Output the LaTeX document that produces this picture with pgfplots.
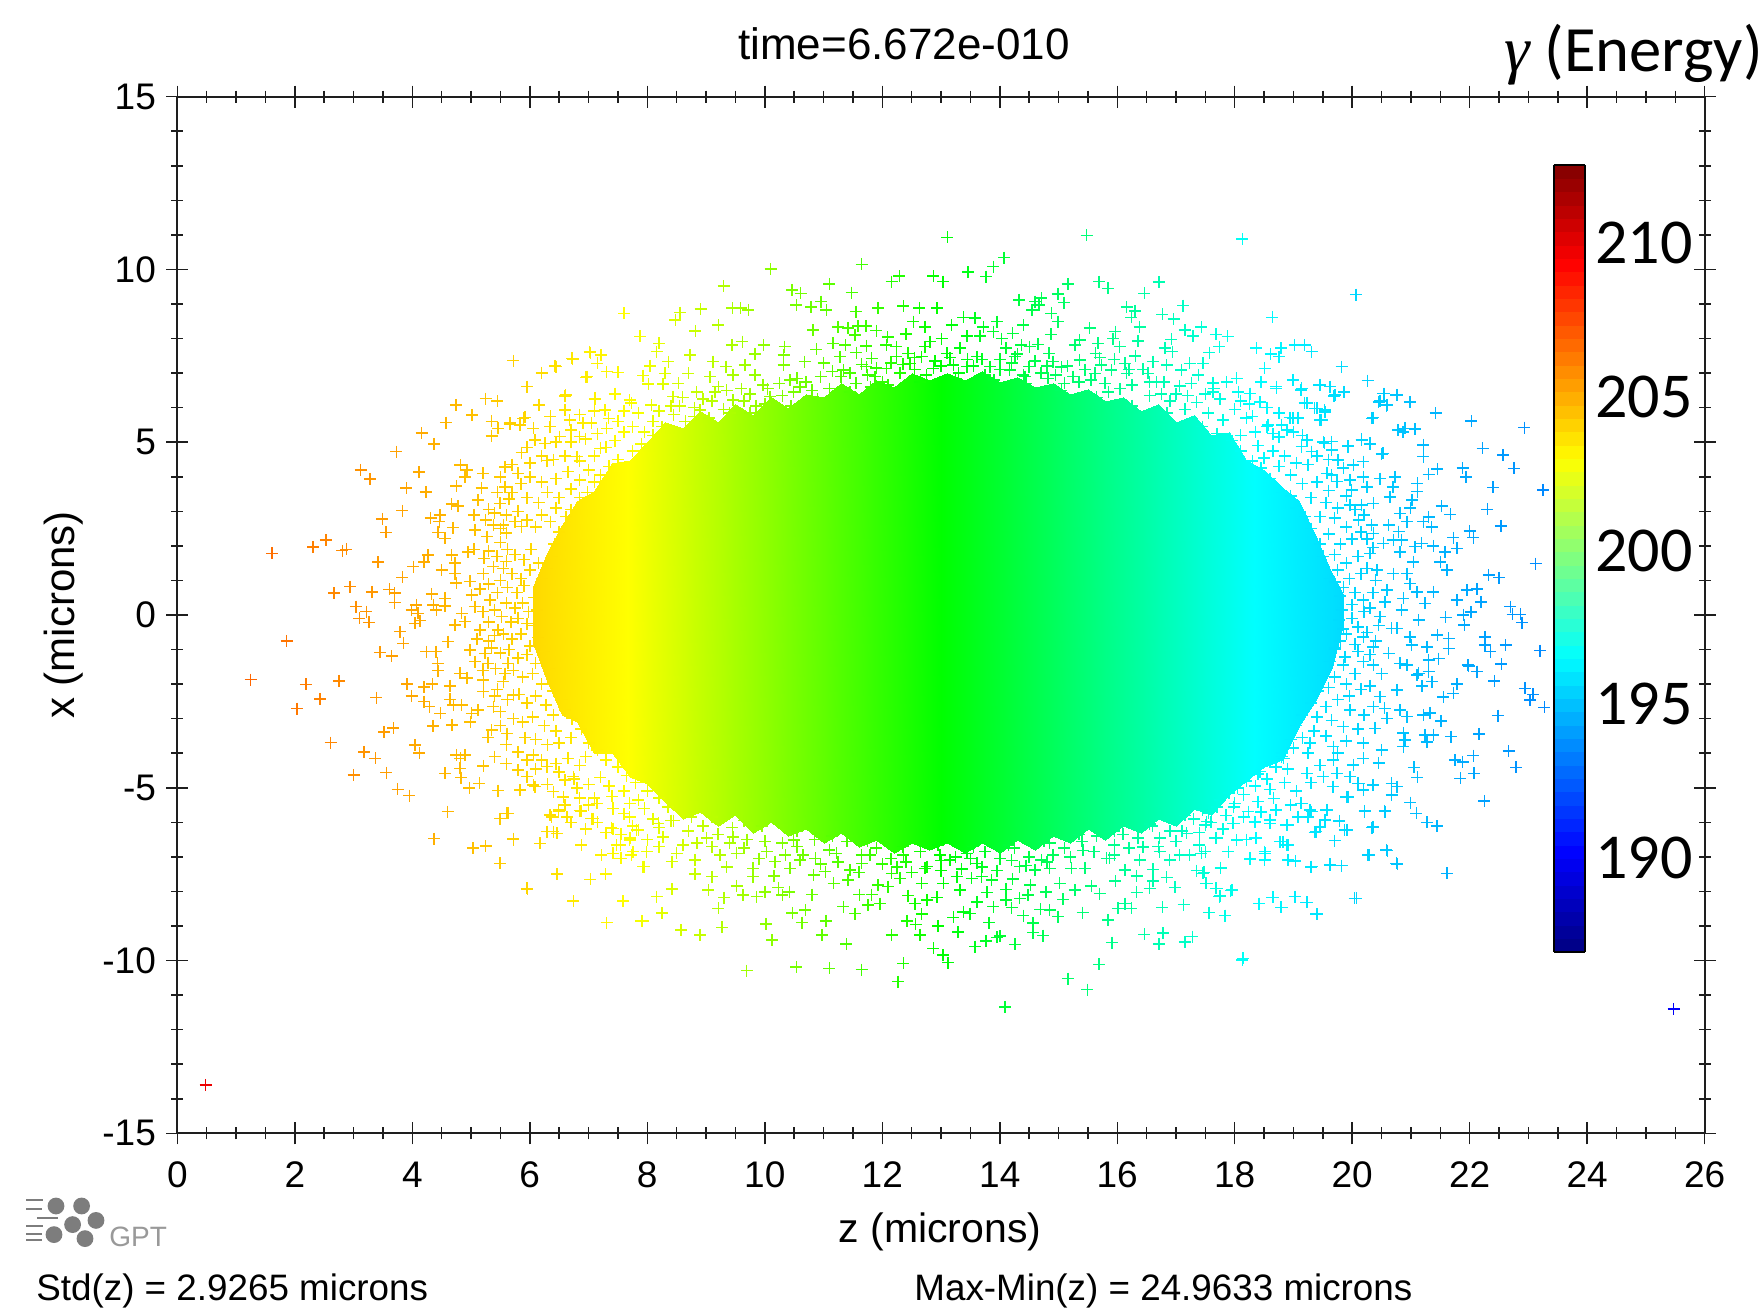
\documentclass[border=0pt]{standalone}
\usepackage{fontspec}
\setmainfont{Liberation Sans}
\newfontfamily\calib{Carlito}
\newfontfamily\ser{Liberation Serif}
\usepackage{pgfplots}
\pgfplotsset{compat=1.18}
\definecolor{axc}{RGB}{30,30,30}
\definecolor{logo}{RGB}{125,125,125}
\pgfplotsset{
  gptmap/.style={colormap={gpt}{rgb255(0)=(0,0,128) rgb255(1)=(0,0,255) rgb255(3)=(0,255,255) rgb255(4)=(0,255,0) rgb255(5)=(255,255,0) rgb255(7)=(255,0,0) rgb255(8)=(128,0,0)}},
}
\begin{document}
\begin{tikzpicture}
\path[use as bounding box] (0,0) rectangle (880.5pt,656.5pt);
\begin{axis}[
  at={(88.65pt,89.85pt)}, anchor=south west,
  scale only axis, width=763.7pt, height=518.3pt,
  xmin=0, xmax=26, ymin=-15, ymax=15,
  xtick={0,2,...,26}, minor x tick num=3,
  ytick={-15,-10,-5,0,5,10,15}, minor y tick num=4,
  yticklabels={-15,-10,-5,0,5,10,15},
  xticklabels={0,2,4,6,8,10,12,14,16,18,20,22,24,26},
  tick align=center, tick pos=both,
  major tick length=11pt, minor tick length=6pt,
  every tick/.style={axc,line width=0.75pt},
  axis line style={axc,line width=1pt},
  tick label style={font=\fontsize{18.5}{20}\selectfont,inner sep=0pt},
  xticklabel style={yshift=-8.5pt},
  yticklabel style={xshift=-5pt},
  colormap={jet}{rgb255(0)=(0,0,128) rgb255(1)=(0,0,255) rgb255(3)=(0,255,255) rgb255(5)=(255,255,0) rgb255(7)=(255,0,0) rgb255(8)=(128,0,0)},
  point meta min=186.95, point meta max=212.55,
  colorbar sampled,
  colorbar style={
    at={(parent axis.north west)}, anchor=north west, xshift=679.7pt, yshift=-34.15pt,
    scale only axis, width=15.5pt, height=393.4pt, samples=60,
    ytick={190,195,200,205,210}, yticklabels={190,195,200,205,210},
    ytick style={draw=none}, major tick length=0pt,
    axis line style={black,line width=1.2pt},
    yticklabel style={font=\calib\fontsize{32}{33}\selectfont,inner sep=0pt,xshift=5pt},
  },
]
\addplot[surf, gptmap, shader=interp, mesh/cols=2, point meta={199.75+0.6*(13-x)}] coordinates {
(6.05,-0.8)(6.05,0.8)
(6.3,-1.9)(6.3,1.8)
(6.55,-2.9)(6.55,2.6)
(6.8,-3.1)(6.8,3.3)
(7.1,-4)(7.1,3.6)
(7.4,-4)(7.4,4.4)
(7.7,-4.7)(7.7,4.5)
(8,-4.9)(8,5)
(8.3,-5.4)(8.3,5.6)
(8.6,-5.9)(8.6,5.4)
(8.9,-5.7)(8.9,5.9)
(9.2,-6.1)(9.2,5.6)
(9.5,-5.8)(9.5,6.1)
(9.8,-6.3)(9.8,5.8)
(10.1,-6)(10.1,6.3)
(10.4,-6.4)(10.4,6)
(10.7,-6.2)(10.7,6.4)
(11,-6.6)(11,6.3)
(11.3,-6.3)(11.3,6.7)
(11.6,-6.7)(11.6,6.4)
(11.9,-6.5)(11.9,6.8)
(12.2,-6.9)(12.2,6.6)
(12.5,-6.6)(12.5,7)
(12.8,-6.8)(12.8,6.8)
(13.1,-6.6)(13.1,7)
(13.4,-6.9)(13.4,6.8)
(13.7,-6.6)(13.7,7.05)
(14,-6.9)(14,6.75)
(14.3,-6.5)(14.3,6.9)
(14.6,-6.8)(14.6,6.6)
(14.9,-6.4)(14.9,6.7)
(15.2,-6.6)(15.2,6.4)
(15.5,-6.2)(15.5,6.55)
(15.8,-6.5)(15.8,6.2)
(16.1,-6.1)(16.1,6.3)
(16.4,-6.3)(16.4,5.9)
(16.7,-5.9)(16.7,6.1)
(17,-6.1)(17,5.6)
(17.3,-5.6)(17.3,5.8)
(17.6,-5.8)(17.6,5.2)
(17.9,-5.2)(17.9,5.3)
(18.2,-4.8)(18.2,4.5)
(18.5,-4.4)(18.5,4.2)
(18.8,-4.2)(18.8,3.7)
(19.1,-3.2)(19.1,3.3)
(19.4,-2.4)(19.4,2.2)
(19.65,-1.5)(19.65,1.2)
(19.85,-0.3)(19.85,0.6)
};
\addplot[scatter, gptmap, only marks, mark=+, mark size=3pt, line width=0.75pt,
  scatter/use mapped color={draw=mapped color,fill=mapped color},
  point meta={199.75+0.6*(13-x)}] coordinates {
(1.61,1.78)(2.31,1.97)(2.53,2.17)(2.81,1.86)(2.88,1.9)(3.12,4.2)(3.28,3.94)(3.73,4.73)(4.16,5.26)(4.37,4.95)(4.57,5.57)(4.74,6.08)(5.02,5.79)(5.25,6.26)(5.45,6.19)(5.72,7.36)(6.2,7.01)(6.45,7.19)(6.73,7.41)(7.02,7.62)(7.22,7.53)(7.6,8.73)(7.88,8.06)(5.95,6.61)(6.96,6.88)(7.31,7.04)(7.5,7.02)(6.15,6.07)(6.6,6.34)(7.11,6.27)(7.45,6.39)(7.7,6.22)(6.6,5.93)(5.35,5.6)(5.46,5.4)(5.35,5.18)(5.66,5.53)(5.83,5.5)(5.92,5.72)(6.06,5.4)(6.34,5.45)(6.09,5.06)(6.26,4.97)(5.86,4.7)(6.29,4.47)(5.58,4.29)(5.8,4.1)(4.82,4.34)(4.93,4.2)(4.9,4)(4.11,4.14)(3.9,3.67)(4.23,3.56)(4.75,3.74)(3.83,3.02)(3.49,2.78)(3.55,2.39)(4.31,2.8)(4.47,2.89)(4.46,2.7)(4.67,3.21)(4.78,3.16)(5.18,3.67)(5.12,3.33)(5.3,3.06)(5.49,3.23)(5.58,3.71)(4.69,2.53)(4.44,2.39)(4.56,2.22)(5.07,2.46)(5.27,2.27)(5.38,2.6)(5.6,2.37)(5.86,2.56)(3.42,1.53)(4.27,1.73)(4.2,1.54)(4.02,1.4)(3.83,1.09)(4.67,1.74)(4.95,1.83)(5.22,1.64)(4.5,1.3)(4.73,1.5)(4.73,1.2)(4.98,0.97)(5.21,1.2)(5.38,1.4)(4.75,0.92)(2.94,0.82)(2.67,0.63)(3.31,0.67)(3.61,0.74)(3.7,0.63)(3.7,0.36)(3.04,0.24)(3.22,0.1)(3.1,-0.1)(3.26,-0.21)(4.33,0.61)(4.56,0.48)(4.56,0.26)(4.36,0.29)(4.41,0.14)(4.07,0.29)(3.99,0.14)(4.1,0.05)(4.13,-0.16)(4.05,-0.24)(4.84,0.05)(4.73,-0.29)(4.9,-0.19)(5.01,0.58)(5.07,0.24)(5.32,0.43)(3.79,-0.48)(3.85,-0.82)(1.86,-0.75)(4.61,-0.77)(5.15,-0.43)(5.46,-0.43)
(1.25,-1.87)(2.19,-2.01)(2.75,-1.91)(2.43,-2.43)(2.04,-2.71)(3.39,-2.39)(3.45,-1.08)(3.65,-1.19)(4.24,-1.06)(4.4,-1.06)(4.43,-1.4)(4.44,-1.61)(3.91,-2)(4.2,-2.09)(4.34,-2)(4.64,-2.05)(3.99,-2.34)(4.2,-2.51)(4.29,-2.65)(4.64,-2.44)(4.7,-2.6)(4.84,-2.6)(4.48,-2.85)(4.35,-3.21)(4.68,-3.18)(4.99,-3.09)(5.01,-2.85)(5.12,-2.75)(5.38,-2.65)(5.35,-3.33)(5.61,-3.43)(5.29,-3.54)(4.81,-1.69)(4.93,-1.83)(5.21,-1.88)(5.21,-2.22)(5.55,-1.93)(5.72,-2.32)(4.98,-1.01)(5.07,-1.35)(5.29,-1.4)(5.24,-1.11)(5.63,-1.4)(3.52,-3.38)(3.68,-3.27)(2.61,-3.69)(3.18,-3.96)(3.37,-4.15)(4.05,-3.76)(4.12,-4)(3,-4.63)(3.56,-4.56)(3.75,-5.05)(3.95,-5.23)(4.56,-4.58)(4.82,-4.15)(4.75,-4.05)(4.9,-4.05)(4.81,-4.44)(4.83,-4.71)(4.97,-5)(5.14,-4.87)(5.21,-4.37)(5.46,-5.08)(5.83,-5.07)(5.8,-4.49)(5.8,-3.96)(6.06,-4.05)(5.95,-4.68)(6.09,-4.97)(6.4,-5.11)(6.29,-4.39)(6.6,-4.78)(6.74,-4.68)(6.57,-5.26)(4.6,-5.69)(5.49,-5.89)(5.63,-5.74)(6.37,-5.84)(6.49,-5.69)(6.63,-5.84)(6.87,-5.67)(7.08,-5.89)(7.14,-5.45)(7.42,-5.6)(7.7,-5.45)(7.7,-5.84)(4.37,-6.47)(5.03,-6.75)(5.25,-6.69)(5.72,-6.47)(6.17,-6.61)(6.29,-6.27)(6.46,-6.32)(5.49,-7.19)(6.46,-7.5)(7.03,-7.65)(7.29,-7.5)(5.96,-7.93)(6.74,-8.28)(7.59,-8.28)(7.31,-8.9)(7.92,-8.86)(6.88,-6.66)(7.22,-6.95)(7.42,-6.9)(7.56,-7.04)(7.73,-6.95)(7.54,-6.66)(7.7,-6.51)(7.93,-7.28)(7.39,-6.16)(7.85,-6.22)
(13.11,10.93)(10.1,10.02)(11.65,10.15)(9.3,9.52)(11.1,9.58)(12.29,9.81)(12.16,9.65)(12.87,9.81)(13.03,9.65)(13.46,9.92)(13.77,9.79)(13.89,10.08)(10.46,9.41)(10.61,9.31)(11.48,9.33)(8.56,8.75)(8.48,8.54)(8.91,8.85)(9.45,8.88)(9.59,8.88)(9.72,8.83)(10.54,8.97)(10.79,8.92)(10.96,9.07)(11.05,8.83)(11.55,8.78)(11.93,8.88)(12.36,8.94)(12.63,8.88)(12.93,8.88)(8.82,8.22)(9.21,8.39)(10.82,8.25)(11.25,8.34)(11.42,8.3)(11.54,8.1)(11.59,8.37)(11.72,8.36)(11.9,8.23)(12.53,8.49)(12.73,8.34)(12.4,8.13)(12.09,8.04)(13.18,8.39)(13.38,8.61)(13.58,8.59)(13.72,8.34)(13.95,8.49)(13.01,8)(12.81,7.91)(13.44,8.07)(13.66,8.07)(13.89,8.2)(8.2,7.86)(8.16,7.62)(8.73,7.52)(9.44,7.81)(9.62,7.91)(9.98,7.81)(9.83,7.55)(10.34,7.77)(10.32,7.52)(10.88,7.69)(11.16,7.86)(11.37,7.81)(11.73,7.79)(12.07,7.81)(11.56,7.59)(12.24,7.77)(11.28,7.48)(11.82,7.43)(12.24,7.48)(12.44,7.57)(12.67,7.48)(12.73,7.77)(13.1,7.57)(13.32,7.72)(13.61,7.48)(6.43,7.21)(6.72,7.43)(7.03,7.59)(7.21,7.52)(7.15,7.28)(6.2,6.99)(6.97,6.9)(7.51,7.02)(8.05,7.21)(8.36,7.33)(7.93,6.93)(8.3,6.99)(8.7,6.99)(9.12,7.33)(9.34,7.19)(9.66,7.23)(9.07,6.9)(9.46,6.95)(9.83,6.95)(10.32,7.23)(10.68,7.33)(11,7.3)(11.34,7.09)(11.73,7.19)(12.07,7.14)(12.47,7.28)(12.87,7.14)(13.21,7.23)(13.44,7.19)(13.83,7.19)(8.02,6.68)(8.27,6.68)(8.53,6.7)(9.21,6.61)(9.97,6.66)(10.43,6.8)(11.88,6.9)(6.61,6.37)(7.45,6.41)(7.73,6.13)(6.16,6.08)(7.11,6.24)(7.28,5.93)(8.44,6.32)(8.84,6.46)(8.07,6.08)(8.9,5.93)(9.46,6.22)(10.09,6.32)(10.49,6.46)(5.89,5.69)(5.66,5.55)(6.68,5.64)(7.34,5.69)(6.91,5.55)(7.31,5.4)(6.51,5.16)(6.85,5.16)(7.2,4.82)(6.8,4.58)
(15.48,10.99)(18.13,10.88)(14.07,10.34)(20.06,9.27)(15.16,9.58)(15.69,9.65)(15.84,9.45)(16.71,9.63)(16.46,9.31)(14.33,9.12)(14.71,9.17)(14.6,9.07)(14.99,9.29)(15.09,9.04)(14.67,8.97)(14.55,8.83)(17.12,8.95)(16.16,8.92)(16.3,8.8)(16.24,8.61)(18.64,8.61)(16.77,8.7)(16.96,8.56)(14.88,8.73)(14.99,8.49)(14.4,8.39)(16.38,8.33)(15.53,8.3)(17.15,8.25)(17.43,8.34)(17.29,8.07)(17.68,8.12)(17.88,8.06)(15.97,8.2)(14.87,8.12)(14.22,8.15)(14.03,8)(16.92,7.98)(16.35,7.93)(14.65,7.83)(15.36,7.96)(15.28,7.81)(15.67,7.86)(15.93,8)(16.04,7.77)(17.74,7.77)(18.37,7.72)(19.02,7.81)(19.19,7.81)(19.31,7.62)(18.79,7.72)(18.61,7.55)(18.75,7.48)(16.81,7.72)(16.94,7.62)(17.57,7.59)(16.31,7.5)(15.63,7.57)(14.11,7.72)(14.37,7.81)(14.51,7.77)(14.84,7.57)(14.26,7.48)(19.82,7.19)(18.51,7.14)(17.46,7.28)(17.23,7.28)(17.09,7.09)(16.84,7.23)(16.61,7.33)(16.44,7.11)(16.13,7.28)(15.9,7.09)(15.73,7.23)(15.36,7.38)(14.91,7.33)(15.05,7.17)(14.5,7.19)(14.17,7.09)(20.26,6.78)(18.99,6.8)(18.45,6.75)(18.03,6.85)(17.86,6.75)(17.63,6.72)(17.63,6.46)(18.71,6.61)(19.13,6.51)(19.44,6.66)(19.62,6.61)(19.69,6.34)(19.86,6.46)(20.54,6.41)(20.75,6.37)(20.47,6.19)(20.58,6.06)(20.34,5.69)(19.19,6.14)(19.36,5.98)(19.53,5.93)(19.45,5.64)(18.99,5.69)(19.08,5.69)(18.26,6.41)(18.06,6.46)(18.43,6.17)(17.26,6.7)(17.38,6.95)(17.06,6.63)(16.67,6.75)(16.52,6.99)(16.16,6.99)(15.79,6.7)(15.62,6.99)(15.25,6.9)(14.82,6.85)(14.43,6.9)(20.16,5.06)(20.3,4.97)(19.93,4.87)(19.53,4.97)(19.65,4.77)(20.52,4.68)(19.31,4.73)(20.78,5.35)
(21.42,5.84)(22.03,5.61)(22.93,5.42)(22.22,4.82)(22.57,4.63)(22.75,4.24)(21.88,4.26)(21.94,4)(21.45,4.22)(21.3,4.07)(22.4,3.69)(23.25,3.62)(22.3,3.06)(21.52,3.15)(21.67,2.91)(22.53,2.58)(22,2.43)(22.06,2.24)(21.72,2.24)(23.12,1.49)(22.32,1.16)(22.5,1.08)(21.78,1.93)(21.58,1.83)(21.5,1.54)(21.61,1.3)(21.38,2)(21.18,2.07)(21.07,1.98)(21.95,0.72)(22.12,0.75)(22.19,0.38)(21.78,0.43)(22.02,0.08)(21.89,0)(21.91,-0.29)(21.59,-0.07)(22.69,0.24)(22.73,0.02)(22.86,0.02)(22.89,-0.22)(23.2,-1.03)(22.61,-0.87)(22.26,-0.63)(22.26,-0.87)(22.35,-1.06)(22.54,-1.43)(21.97,-1.45)(22.12,-1.64)(21.64,-0.68)(21.64,-0.97)(21.45,-0.58)(21.27,-0.92)(21.47,-1.26)(21.3,-1.3)(21.13,-0.15)(21.24,0.34)(21.38,0.67)(20.87,0.48)(20.98,-0.63)(21.01,-0.87)(21.21,4.92)(21.21,4.58)(21.11,3.81)(21.11,3.57)(21.02,3.33)(20.99,3.09)(20.81,2.94)(20.93,2.7)(21.3,2.84)(21.35,2.55)(21.21,2.7)(20.73,4)(20.69,3.71)(20.64,3.42)(20.47,3.95)(20.25,3.71)(20.5,4.66)(20.9,5.4)(21.07,5.38)(20.86,5.3)(20.35,5.71)(20.98,6.17)(20.76,6.37)(20.53,6.41)(20.45,6.17)(20.59,6.08)(20.16,5.08)(20.3,4.95)(19.93,4.89)(19.76,4.48)(20.19,4.44)(20.02,4.34)(19.57,4.1)(20.19,4)(19.74,3.86)(19.96,3.91)(19.99,3.62)(20.62,2.6)(20.79,2.41)(20.36,3.23)(20.16,3.18)(19.96,3.18)(20.33,2.6)(20.36,2.36)(20.11,2.75)(20.84,2.17)(20.7,2.17)(20.81,1.83)(20.53,2.07)(21.04,1.54)(20.93,1.2)(20.7,1.2)(20.98,0.91)(20.42,1.3)(20.3,1.78)(21.1,0.67)(20.59,0.72)(20.84,0.14)(20.56,0.38)(20.76,-0.39)(20.47,-0.05)(20.19,0.43)(20.67,-0.39)(20.36,-0.92)(20.62,-1.11)(20.81,-1.4)(20.36,-1.45)(20.93,-1.45)(21.13,-1.69)(20.19,-0.63)(19.88,-1.21)(20.19,-1.35)
(17.64,6.56)(18.26,6.41)(18.71,6.56)(19.14,6.56)(19.45,6.66)(19.71,6.37)(19.23,6.14)(19.4,5.98)(19.54,5.88)(18.94,5.71)(19.08,5.71)(19.48,5.64)(18.57,5.5)(18.89,5.35)(19.23,5.06)(19.51,5)(19.65,5.02)(19.14,4.87)(19.31,4.73)
(21.98,-1.47)(22.12,-1.64)(22.54,-1.42)(22.42,-1.91)(22.94,-2.12)(23.08,-2.3)(23.03,-2.46)(23.27,-2.67)(22.48,-2.91)(22.16,-3.44)(22.66,-3.94)(22.79,-4.41)(21.78,-2)(21.72,-2.27)(21.55,-2.38)(21.51,-3.07)(21.32,-2.83)(21.21,-2.89)(21.68,-3.52)(21.38,-3.47)(21.24,-3.47)(21.27,-3.67)(21.36,-1.93)(21.19,-2.06)(21.1,-1.74)(21.3,-1.64)(21.75,-4.2)(21.88,-4.25)(22.06,-4.07)(22.07,-4.58)(21.84,-4.73)(22.25,-5.38)(21.05,-4.41)(21.11,-4.7)(20.67,-4.87)(20.76,-4.97)(20.35,-4.92)(20.67,-5.21)(20.99,-5.43)(21.09,-5.74)(21.27,-6)(21.44,-6.11)(21.61,-7.48)(20.56,-5.69)(20.21,-5.67)(20.35,-6.13)(20.77,-7.21)(20.6,-6.82)(20.29,-6.95)(20.07,-8.2)(19.4,-8.66)(19.23,-8.32)(19.03,-8.15)(18.8,-8.46)(18.65,-8.17)(18.42,-8.35)(18.14,-9.94)(17.84,-8.7)(17.57,-8.61)(17.95,-7.96)(17.75,-8.13)(17.68,-7.91)(17.51,-7.77)(17.76,-7.33)(17.48,-7.45)(19.31,-7.28)(19.62,-7.22)(19.82,-7.25)(19.7,-6.53)(19.38,-6.27)(19.91,-6.22)(19.78,-5.96)(19.54,-5.93)(19.57,-5.64)(19.28,-5.64)(19.25,-5.84)(19.08,-5.84)(18.9,-6.08)(18.77,-6.56)(18.91,-6.66)(18.91,-7.09)(19.03,-7.12)(18.52,-6.9)(18.26,-7.06)(17.89,-6.85)(18.03,-6.51)(18.35,-6.46)(17.67,-6.46)(17.5,-6.85)(18.6,-6.03)(18.35,-6)(17.98,-6.03)(17.5,-6.08)(18.23,-5.69)(17.98,-5.55)(17.55,-5.74)(18.66,-5.31)(19.14,-5.45)(19.93,-5.26)(19.68,-4.97)(20.19,-5.07)(20.11,-4.87)(19.96,-4.68)(19.51,-4.68)(19.23,-4.58)(19.74,-4.58)(20.45,-4.29)(20.5,-3.91)(20.87,-3.81)(20.9,-3.62)(20.19,-3.71)(20.19,-4.15)(20.02,-4.34)(19.68,-3.81)(19.85,-3.23)(20.39,-3.28)(20.87,-3.42)(20.93,-2.94)(20.81,-2.75)(20.59,-2.99)(20.76,-2.17)(20.36,-2.65)(20.47,-2.36)(19.96,-2.75)(19.68,-4.2)(19.28,-3.71)(18.83,-4.15)(18.43,-4.53)(18.8,-4.1)
(12.27,-10.61)(9.69,-10.29)(10.54,-10.18)(11.1,-10.23)(11.65,-10.26)(12.36,-10.08)(12.87,-9.65)(13.03,-9.84)(13.12,-10.06)(13.58,-9.6)(13.77,-9.44)(13.95,-9.33)(11.39,-9.52)(10.12,-9.41)(10.97,-9.26)(12.16,-9.26)(12.64,-9.26)(13.29,-9.18)(7.9,-8.86)(8.57,-9.12)(8.9,-9.26)(9.27,-9.04)(10.02,-8.94)(10.63,-8.9)(11.04,-8.85)(12.42,-8.85)(12.57,-8.95)(12.95,-9)(13.82,-8.9)(8.25,-8.62)(9.21,-8.49)(10.47,-8.62)(10.69,-8.54)(11.34,-8.44)(11.54,-8.64)(12.67,-8.66)(13.21,-8.75)(13.38,-8.59)(13.49,-8.64)(13.89,-8.44)(5.95,-7.91)(8.16,-8.15)(8.42,-7.93)(9.04,-7.96)(9.31,-8.18)(9.63,-8.1)(9.86,-8.15)(10,-8.01)(10.23,-7.89)(10.3,-8.1)(10.42,-8.01)(10.8,-8.09)(11.76,-8.39)(11.96,-8.35)(11.61,-8.09)(11.82,-8.09)(12.44,-8.12)(12.56,-8.35)(12.76,-8.25)(12.93,-8.17)(13.32,-7.96)(13.61,-8.3)(13.78,-8.03)(8.81,-7.5)(9.1,-7.57)(9.52,-7.84)(9.8,-7.57)(10.16,-7.55)(10.83,-7.53)(11.17,-7.77)(11.42,-7.67)(11.93,-7.82)(12.1,-7.86)(12.3,-7.62)(12.67,-7.77)(13.04,-7.77)(13.52,-7.62)(13.86,-7.67)(7.94,-7.28)(8.42,-7.14)(8.81,-7.09)(9.35,-7.3)(9.8,-7.33)(10.43,-7.33)(11.03,-7.43)(11.45,-7.38)(12.16,-7.48)(12.73,-7.33)(13.27,-7.57)(13.69,-7.57)(7.54,-7.04)(7.76,-6.85)(7.99,-6.85)(9.24,-6.95)(9.52,-6.9)(10.17,-7.14)(10.6,-7.09)(11.65,-7.19)(12.76,-7.28)(13.15,-7.09)(13.61,-7.19)(5.72,-6.5)(7.48,-6.66)(7.71,-6.46)(8.27,-6.42)(8.61,-6.66)(9.01,-6.46)(9.46,-6.42)(10.03,-6.85)(10.49,-6.51)(10.86,-7.04)(11.22,-6.9)(11.79,-6.95)(12.36,-6.95)(12.98,-6.95)(13.44,-6.9)(5.61,-5.74)(6.34,-5.79)(6.49,-5.64)(6.85,-5.66)(7.05,-5.89)(7.42,-6.18)(7.82,-6.22)(6.4,-6.27)(8.19,-6.03)(5.83,-5.07)(6.06,-4.92)
(15.16,-10.52)(15.49,-10.84)(15.69,-10.11)(14.09,-11.34)(18.13,-9.99)(14.26,-9.53)(15.91,-9.48)(16.46,-9.24)(16.78,-9.21)(16.71,-9.52)(17.15,-9.46)(17.28,-9.31)(14.57,-9.19)(14.74,-9.28)(14,-9.29)(19.39,-8.66)(20.04,-8.2)(19.22,-8.32)(19.02,-8.15)(18.79,-8.46)(18.64,-8.17)(18.41,-8.35)(17.83,-8.7)(17.56,-8.61)(17.13,-8.38)(16.77,-8.46)(16.24,-8.49)(16.13,-8.35)(16.01,-8.49)(15.84,-8.83)(15.41,-8.61)(14.99,-8.73)(14.85,-8.54)(14.69,-8.52)(14.4,-8.7)(14.57,-8.92)(14.2,-8.47)(14.11,-8.25)(14.34,-8.2)(14.48,-8.1)(14.79,-8.01)(15.08,-8.23)(15.28,-7.96)(15.7,-8.06)(15.56,-7.84)(14.52,-7.82)(14.22,-7.64)(14.11,-7.94)(16.33,-8.03)(16.55,-7.91)(15.97,-7.7)(16.84,-7.59)(16.98,-7.88)(16.61,-7.7)(17.52,-7.77)(17.69,-7.91)(17.74,-8.15)(17.93,-7.98)(17.76,-7.31)(17.35,-7.4)(17.46,-7.48)(16.61,-7.36)(16.33,-7.55)(16.13,-7.38)(15.02,-7.77)(14.71,-7.09)(14.34,-7.28)(14.6,-7.38)(14.85,-7.33)(15.22,-7.33)(15.45,-7.33)(15.82,-7.04)(16.38,-7.09)(16.89,-7.09)(17.06,-6.95)(17.23,-6.95)(16.72,-6.85)(17.43,-6.9)(18.26,-7.04)(18.51,-7.09)(19.3,-7.29)(19.62,-7.24)(20.27,-6.95)(20.58,-6.8)(20.75,-7.19)(18.51,-6.85)(17.89,-6.85)(18.82,-6.56)(18.88,-6.66)(18.37,-6.46)(17.4,-6.66)(20.34,-6.15)(19.87,-6.22)(19.36,-6.29)(19.45,-6.13)(18.88,-6.08)(18.34,-5.98)(17.97,-6.03)(18.6,-5.93)(19.56,-5.64)(20.21,-5.69)(20.55,-5.66)(19.9,-5.26)(20.35,-4.92)(19.31,-5.69)(19.13,-5.45)(19.67,-4.97)(20.1,-4.87)(17.69,-6.46)(17.18,-6.32)(16.72,-6.46)(16.44,-6.71)(15.42,-6.81)(15.87,-7.04)(14.91,-6.95)(18.2,-6.5)(17.52,-5.98)
(5.5,2.1)(5.62,1.9)(5.75,1.75)(5.9,1.6)(6.02,1.9)(5.44,1.7)(5.55,1.35)(5.7,1.2)(5.85,1.05)(6,1.3)(5.5,1)(5.62,0.8)(5.78,0.65)(5.9,0.85)(5.45,0.65)(5.6,0.35)(5.75,0.2)(5.88,0.35)(5.98,0.1)(5.4,0.15)(5.52,-0.05)(5.68,-0.2)(5.8,-0.1)(5.95,-0.25)(5.4,-0.6)(5.55,-0.55)(5.7,-0.7)(5.85,-0.55)(6,-0.9)(5.35,-0.95)(5.5,-1.1)(5.65,-1)(5.8,-1.25)(5.95,-1.15)(6.1,-1.4)(5.42,-1.55)(5.58,-1.7)(5.72,-1.6)(5.88,-1.8)(6.05,-1.7)(6.2,-2)(5.45,-2.15)(5.62,-2.45)(5.82,-2.3)(5.95,-2.55)(6.1,-2.35)(6.28,-2.6)(6.4,-2.9)(5.5,-2.8)(5.72,-3)(5.88,-3.1)(6.05,-2.95)(6.25,-3.2)(6.45,-3.35)(5.92,-3.55)(6.1,-3.6)(6.3,-3.75)(6.5,-3.7)(6.7,-3.55)(6.2,-4.2)(6.45,-4.3)(6.65,-4.15)(6.85,-4.35)(6.95,-4.1)(6.75,-4.75)(7,-4.9)(7.2,-4.7)(7.35,-4.95)(7.1,-5.3)(7.4,-5.25)(7.6,-5.1)(7.85,-5.35)(7.95,-5.6)(7.6,-5.75)(8.1,-5.9)(8.4,-5.95)
(5.6,2.9)(5.8,3)(5.95,2.75)(6.1,2.55)(6.2,2.9)(6.35,2.7)(6.45,3.1)(5.7,3.55)(5.95,3.4)(6.15,3.25)(6.3,3.55)(6.5,3.4)(6.7,3.65)(6,4)(6.2,3.85)(6.45,3.95)(6.65,4.15)(6.85,3.9)(7,4.2)(6.4,4.5)(6.6,4.6)(6.85,4.45)(7.1,4.6)(7.3,4.85)(6.7,5)(6.95,5.1)(7.15,5.25)(7.45,5.05)(7.6,5.3)(7.05,5.55)(7.5,5.6)(7.75,5.45)(7.95,5.3)(8.1,5.6)(7.6,5.9)(7.85,5.85)(8.2,5.9)(8.45,5.8)(8.65,5.6)(8.55,6.05)(8.8,6)(9.1,6.2)(9.3,5.95)(9.65,6.2)(9.85,6.05)(10.05,6.55)(10.3,6.35)(10.6,6.6)(10.8,6.5)(11.1,6.55)(11.3,6.9)(11.55,6.7)(11.75,6.95)(12,6.75)(12.3,7)(12.55,7.1)(12.75,6.95)(13,7.2)(13.3,7)(13.55,7.2)(13.75,6.95)(14,7.1)(14.2,7.3)(14.4,6.95)(14.7,7)(14.95,6.95)(15.1,6.7)(15.35,6.75)(15.55,6.8)(15.85,6.45)(16.05,6.55)(16.25,6.65)(16.55,6.35)(16.75,6.4)(16.9,6.2)(17.15,5.95)(17.35,6.15)(17.55,5.85)(17.8,5.65)(18,5.95)(18.2,5.7)(18.35,5.3)(18.55,5.45)(18.75,5.15)(18.1,5.2)(18.4,4.9)(18.65,4.75)(18.85,4.6)(19.05,4.4)(19.25,4.35)(18.5,4.55)(18.75,4.3)(18.95,4.05)(19.15,3.8)(19.4,3.85)(19.6,3.6)(19.3,3.4)(19.55,3.25)(19.75,3.1)(19.45,2.85)(19.7,2.8)(19.9,2.55)(19.6,2.35)(19.8,2.05)(20,2.2)(20.15,2.4)(19.7,1.75)(19.9,1.5)(20.1,1.7)(19.75,1.3)(19.95,1.05)(20.15,1.2)(19.85,0.8)(20.05,0.65)(20,0.3)(20.2,0.1)(20,-0.1)(20.1,-0.35)(19.9,-0.55)(20.05,-0.85)(19.8,-0.75)(19.7,-1)(19.85,-1.45)(20.05,-1.7)(19.7,-1.8)(19.9,-2)(19.6,-2.1)(20.15,-2.15)(19.75,-2.45)(19.55,-2.65)(19.95,-2.35)(19.4,-2.95)(19.65,-3.05)(19.35,-3.35)(19.55,-3.5)(19.15,-3.55)(19,-3.85)(19.25,-4)(18.9,-4.45)(18.7,-4.4)(18.55,-4.75)(18.85,-4.85)(18.35,-4.95)(18.6,-5.05)(18.15,-5.2)(18.4,-5.4)(18,-5.45)(17.75,-5.35)(17.6,-6)(17.85,-5.8)(17.3,-5.9)(17.1,-6.25)(16.9,-6.25)(16.6,-6.1)(16.35,-6.45)(16.1,-6.35)(15.95,-6.65)(15.65,-6.4)(15.4,-6.55)(15.1,-6.75)(14.85,-6.6)(14.5,-7)(14.25,-6.75)(14,-7.05)(13.75,-6.85)(13.5,-7.05)(13.25,-7)(13,-7.1)(12.65,-6.85)(12.4,-7.15)(12.15,-7.05)(11.9,-6.75)(11.65,-6.95)(11.4,-6.55)(11.1,-6.8)(10.85,-6.5)(10.55,-6.7)(10.3,-6.6)(10,-6.55)(9.7,-6.5)(9.45,-6.15)(9.2,-6.35)(8.95,-6.1)(8.7,-6.25)(8.45,-5.95)(8.2,-6.15)
(8.4,6.05)(8.6,6.3)(8.95,6.25)(9.15,6.45)(9.35,6.5)(9.6,6.55)(9.75,6.4)(10.25,6.7)(10.55,6.85)(10.7,6.75)(10.95,6.9)(11.15,7.05)(11.45,7)(11.65,7.25)(11.9,7.15)(12.15,7.3)(12.35,7.25)(12.55,7.45)(12.9,7.35)(13.15,7.45)(13.45,7.4)(13.7,7.4)(14,7.4)(14.3,7.55)(14.6,7.35)(14.8,7.2)(15.15,7.2)(15.45,7.1)(15.7,7.45)(15.95,7.4)(16.2,7.1)(16.55,6.75)(16.8,6.75)(17,6.4)(17.2,6.35)(17.5,6.4)(17.75,6.25)(18.1,6.2)(18.25,6.1)(18.55,6)(18.75,5.85)(18.3,5.75)(18.8,5.5)(19,5.3)(18.65,5.25)(19.15,5.2)(19.4,4.6)(19.6,4.5)(19.85,4.25)(19.9,3.45)(20.05,3.05)(19.65,4.05)(20.2,2.9)(20.25,2.2)(20.35,1.95)(20.25,1.35)(20.4,1)(20.35,0.65)(20.3,0.2)(20.45,-0.3)(20.25,-0.5)(20.4,-0.75)(20.3,-1.15)(20.1,-1.05)(20.5,-1.7)(20.3,-2.05)(20.55,-2.7)(20.2,-2.9)(20.1,-3.3)(19.9,-3.65)(19.75,-4)(19.45,-4.35)(19.3,-4.85)(19.05,-5.1)(18.95,-5.5)(18.7,-5.65)(18.45,-5.7)(18.15,-5.85)(17.8,-6.2)(17.4,-6.3)(17,-6.55)(16.7,-6.7)(16.2,-6.75)(15.95,-6.95)(15.6,-6.85)(15.2,-7)(14.8,-7.15)(14.45,-7.25)(14.2,-7.1)(13.95,-7.4)(13.7,-7.3)(13.35,-7.35)(13,-7.4)(12.5,-7.45)(12.25,-7.3)(12,-7.2)(11.6,-7.45)(11.25,-7.15)(10.95,-7.2)(10.65,-6.95)(10.35,-6.95)(9.9,-7.05)(9.65,-6.75)(9.4,-6.6)(9.1,-6.7)(8.85,-6.6)(8.5,-6.9)(8.2,-6.7)(8,-6.5)(7.75,-6.1)(7.55,-6.35)(7.3,-6.3)(7.15,-6)(6.95,-6.2)(6.7,-6)(6.6,-5.5)(6.85,-5.3)(7,-5.5)
(5.05,2.9)(5.25,2.75)(5.4,2.95)(5.55,2.6)(5.75,2.7)(5.45,3.55)(5.65,3.35)(5.85,3.8)(5.2,4.1)(5.5,4)(5.7,4.35)(6,4.4)(6.2,4.6)(5.95,4.85)(6.45,5)(6.7,5.35)(6.35,5.75)(6.85,5.8)(7.1,5.9)(5.05,1.9)(5.3,1.85)(5.5,2.5)(5.6,1.55)(5.15,0.75)(5.3,0.9)(5.2,0.1)(5.3,-0.2)(5.1,-0.7)(5.3,-0.75)(5.2,-1.6)(5.4,-2.35)(5.5,-3.2)(5.6,-3.75)(5.4,-4.1)(5.6,-4.3)(5.95,-4.2)(6.1,-4.45)(6.3,-4.9)(6.5,-4.55)(6.8,-5)
(6.08,0.5)(6.12,0.15)(6.06,-0.3)(6.14,-0.65)(6.2,1.05)(6.15,1.5)(6.3,1.35)(6.25,-1.05)(6.32,-1.55)(6.42,2.05)(6.38,1.7)(6.5,2.4)(6.4,-2.2)(6.55,-2.45)(6.62,2.85)(6.7,3.05)(6.6,-2.75)(6.72,-3)(6.85,3.4)(6.98,3.55)(6.88,-3.3)(7,-3.7)(7.1,3.85)(7.2,4.05)(7.15,-3.9)(7.3,-4.2)(7.35,4.3)(7.5,4.5)(7.5,-4.4)(7.65,-4.65)(7.75,4.75)(7.9,4.95)(7.8,-4.85)(8,-5.1)(8.1,5.2)(8.25,5.45)(8.2,-5.3)(8.35,-5.55)
(17.95,5.05)(18.1,4.75)(18.3,4.45)(18.45,4.25)(18.6,3.95)(18.8,3.55)(18.95,3.45)(19.05,3.1)(19.2,2.85)(19.3,2.5)(19.45,2.05)(19.5,1.7)(19.62,1.05)(19.7,0.95)(19.8,0.55)(19.82,0.15)(19.78,-0.15)(19.85,-0.4)(19.7,-0.95)(19.62,-1.35)(19.5,-1.75)(19.42,-2.2)(19.3,-2.55)(19.15,-2.9)(19.05,-3.2)(18.95,-3.6)(18.8,-4)(18.6,-4.25)(18.4,-4.6)(18.2,-4.8)(18.05,-5)(17.9,-5.15)(17.7,-5.55)
(8.8,5.75)(9.05,5.7)(9.4,5.85)(9.75,5.85)(10,6.1)(10.45,6.05)(10.9,6.25)(11.45,6.45)(11.8,6.6)(12.1,6.65)(12.65,6.75)(13.25,6.85)(13.9,6.8)(14.45,6.7)(15.05,6.5)(15.65,6.3)(16.25,6.05)(16.85,5.85)(17.45,5.45)(17.7,5.25)
(8.75,-5.85)(9.1,-5.85)(9.65,-5.95)(9.95,-6.1)(10.55,-6.25)(11.15,-6.4)(11.75,-6.55)(12.35,-6.7)(12.95,-6.65)(13.55,-6.7)(14.15,-6.65)(14.75,-6.55)(15.35,-6.35)(15.95,-6.25)(16.55,-6.05)(17.15,-5.8)(17.45,-5.65)
};
\addplot[scatter, gptmap, only marks, mark=+, mark size=3pt, line width=0.75pt,
  scatter/use mapped color={draw=mapped color,fill=mapped color},
  point meta=explicit] coordinates {(0.48,-13.6) [209.8] (25.47,-11.4) [190]};
\end{axis}
% texts
\node[anchor=base,inner sep=0pt,font=\fontsize{22}{23}\selectfont] at (452pt,626.5pt) {time=6.672e-010};
\node[anchor=base east,inner sep=0pt,font=\calib\fontsize{32.3}{33}\selectfont] at (881.5pt,620.5pt) {{\ser\itshape γ} (Energy)};
\node[inner sep=0pt,rotate=90,font=\fontsize{21}{22}\selectfont] at (32pt,349pt) {x (microns)};
\node[inner sep=0pt,font=\fontsize{20.5}{21}\selectfont] at (470pt,40.5pt) {z (microns)};
\node[anchor=base west,inner sep=0pt,font=\fontsize{18.4}{20}\selectfont] at (18pt,6.5pt) {Std(z) = 2.9265 microns};
\node[anchor=base west,inner sep=0pt,font=\fontsize{18.4}{20}\selectfont] at (457pt,6.5pt) {Max-Min(z) = 24.9633 microns};
% GPT logo
\fill[logo] (28pt,53.5pt) circle (4.2pt) (40.8pt,53.5pt) circle (4.2pt) (36.3pt,44.2pt) circle (4.2pt) (48pt,46.3pt) circle (4.2pt) (27pt,39.2pt) circle (4.2pt) (42.5pt,37.2pt) circle (4.2pt);
\draw[logo,line width=0.6pt] (13pt,56.5pt)--(21.6pt,56.5pt) (13pt,52pt)--(20.8pt,52pt) (18.4pt,47.5pt)--(29.2pt,47.5pt);
\draw[logo,line width=1pt] (13pt,43.4pt)--(21.6pt,43.4pt) (13pt,39.6pt)--(20.8pt,39.6pt) (13pt,36.3pt)--(20.8pt,36.3pt);
\node[anchor=base west,inner sep=0pt,text=black!40,font=\fontsize{14}{15}\selectfont] at (54.5pt,33.5pt) {GPT};
\end{tikzpicture}
\end{document}
